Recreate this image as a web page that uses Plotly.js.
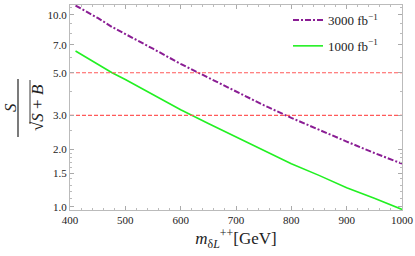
<!DOCTYPE html>
<html><head><meta charset="utf-8">
<script src="https://cdn.plot.ly/plotly-3.0.1.min.js"></script>
<style>html,body{margin:0;padding:0;background:#fff;}#c{width:415px;height:256px;}</style>
</head><body><div id="c"></div>
<script>
const mass = [410, 450, 476, 500, 550, 600, 650, 700, 750, 800, 850, 900, 950, 1000];
const sig3000 = [11.2, 9.65, 8.66, 7.98, 6.67, 5.56, 4.71, 4.0, 3.39, 2.91, 2.52, 2.19, 1.91, 1.68];
const sig1000 = [6.49, 5.57, 5.0, 4.61, 3.85, 3.21, 2.72, 2.31, 1.96, 1.68, 1.46, 1.26, 1.11, 0.97];
const thresholds = [5, 3];
const xRange = [400, 1000];
const xTicks = [400, 500, 600, 700, 800, 900, 1000];
const yTicks = [1.0, 1.5, 2.0, 3.0, 5.0, 7.0, 10.0];
const yTickText = ['1.0', '1.5', '2.0', '3.0', '5.0', '7.0', '10.0'];
const yMinor = [1.1, 1.2, 1.3, 1.4, 1.6, 1.7, 1.8, 1.9, 2.5, 4, 6, 8, 9, 11];

const serif = 'Liberation Serif';
const traces = [
  {x: mass, y: sig3000, mode: 'lines', name: '3000 fb<sup>−1</sup>', legendgroup: 'a',
   line: {color: '#8a1d94', width: 2, dash: '6px,2px,2px,2px'}},
  {x: mass, y: sig1000, mode: 'lines', name: '1000 fb<sup>−1</sup>', legendgroup: 'b',
   line: {color: '#22f022', width: 1.6}}
];
thresholds.forEach(t => traces.push({x: xRange, y: [t, t], mode: 'lines', showlegend: false,
  hoverinfo: 'skip', line: {color: '#ff5a5a', width: 1.2, dash: '4px,2px'}}));

const L = 70, R = 402, T = 5, B = 210;
const px = v => (v - L) / (R - L);
const py = v => (B - v) / (B - T);

const layout = {
  width: 415, height: 256,
  margin: {l: L, r: 415 - R, t: T, b: 256 - B},
  paper_bgcolor: '#fff', plot_bgcolor: '#fff',
  font: {family: serif, color: '#222', size: 11},
  showlegend: true,
  legend: {x: px(288), xanchor: 'left', y: 1, yanchor: 'top', bgcolor: 'rgba(0,0,0,0)',
           font: {family: serif, size: 13, color: '#222'}, tracegroupgap: 6},
  xaxis: {range: xRange, tickvals: xTicks, ticks: 'inside', ticklen: 4, tickcolor: '#aaa',
          showline: true, linecolor: '#bbb', mirror: 'ticks', showgrid: false, zeroline: false,
          tickfont: {family: serif, size: 11, color: '#222'},
          minor: {dtick: 20, ticks: 'inside', ticklen: 2, tickcolor: '#bbb', showgrid: false},
          title: {text: '<i>m</i><sub>δ<i>L</i></sub><sup>++</sup>[GeV]', font: {family: serif, size: 17, color: '#222'}, standoff: 5}},
  yaxis: {type: 'log', range: [-0.016, 1.052], tickvals: yTicks, ticktext: yTickText,
          ticks: 'inside', ticklen: 4, tickcolor: '#aaa', showline: true, linecolor: '#bbb',
          mirror: 'ticks', showgrid: false, zeroline: false,
          tickfont: {family: serif, size: 11, color: '#222'},
          minor: {tickvals: yMinor, ticks: 'inside', ticklen: 2, tickcolor: '#bbb', showgrid: false}},
  annotations: [
    {xref: 'paper', yref: 'paper', x: px(10), y: py(108), xanchor: 'center', yanchor: 'middle',
     text: '<i>S</i>', showarrow: false,
     textangle: -90, font: {family: serif, size: 17, color: '#222'}},
    {xref: 'paper', yref: 'paper', x: px(37), y: py(108), xanchor: 'center', yanchor: 'middle',
     text: '√<i>S</i> + <i>B</i>', showarrow: false,
     textangle: -90, font: {family: serif, size: 17, color: '#222'}}
  ],
  shapes: [
    {type: 'line', xref: 'paper', yref: 'paper', x0: px(18), x1: px(18), y0: py(79), y1: py(137),
     line: {color: '#222', width: 1.2}},
    {type: 'line', xref: 'paper', yref: 'paper', x0: px(30), x1: px(30), y0: py(80), y1: py(124),
     line: {color: '#222', width: 0.9}}
  ]
};
Plotly.newPlot('c', traces, layout, {staticPlot: true, displayModeBar: false});
</script></body></html>
